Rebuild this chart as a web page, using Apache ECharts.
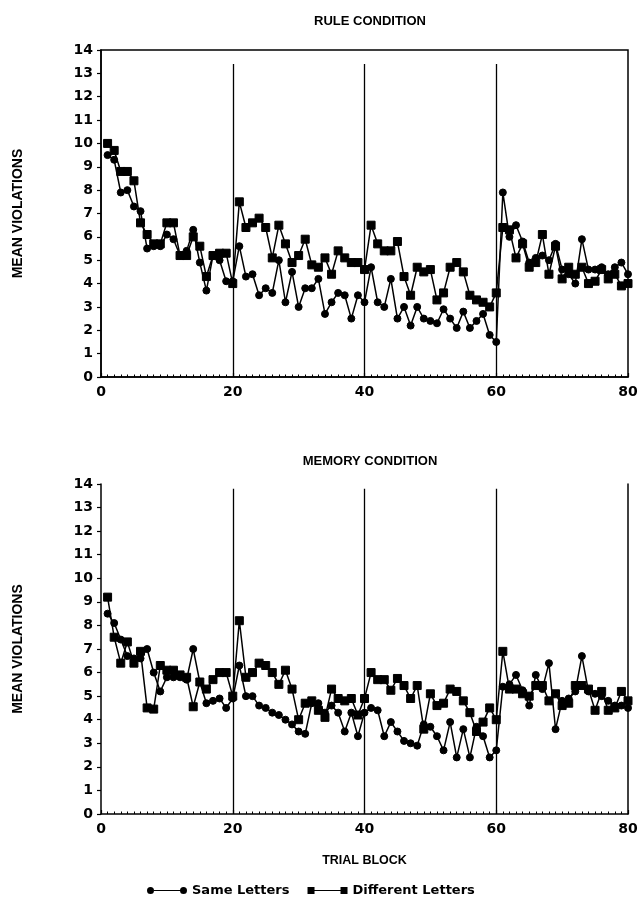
<!DOCTYPE html>
<html>
<head>
<meta charset="utf-8">
<script src="https://cdn.jsdelivr.net/npm/echarts@6/dist/echarts.min.js"></script>
<style>
html,body{margin:0;padding:0;background:#fff;}
#chart{width:642px;height:899px;}
</style>
</head>
<body>
<div id="chart"></div>
<script>
// ---- Data ----
const trials = Array.from({length: 80}, (_, i) => i + 1);

const ruleSame = [9.5,9.3,7.9,8.0,7.3,7.1,5.5,5.6,5.6,6.1,5.9,5.2,5.4,6.3,4.9,3.7,5.2,5.0,4.1,4.1,
  5.6,4.3,4.4,3.5,3.8,3.6,5.0,3.2,4.5,3.0,3.8,3.8,4.2,2.7,3.2,3.6,3.5,2.5,3.5,3.2,
  4.7,3.2,3.0,4.2,2.5,3.0,2.2,3.0,2.5,2.4,2.3,2.9,2.5,2.1,2.8,2.1,2.4,2.7,1.8,1.5,
  7.9,6.0,6.5,5.8,4.9,5.1,5.2,5.0,5.7,4.6,4.4,4.0,5.9,4.6,4.6,4.7,4.4,4.7,4.9,4.4];

const ruleDiff = [10.0,9.7,8.8,8.8,8.4,6.6,6.1,5.7,5.7,6.6,6.6,5.2,5.2,6.0,5.6,4.3,5.2,5.3,5.3,4.0,
  7.5,6.4,6.6,6.8,6.4,5.1,6.5,5.7,4.9,5.2,5.9,4.8,4.7,5.1,4.4,5.4,5.1,4.9,4.9,4.6,
  6.5,5.7,5.4,5.4,5.8,4.3,3.5,4.7,4.5,4.6,3.3,3.6,4.7,4.9,4.5,3.5,3.3,3.2,3.0,3.6,
  6.4,6.3,5.1,5.7,4.7,4.9,6.1,4.4,5.6,4.2,4.7,4.4,4.7,4.0,4.1,4.6,4.2,4.4,3.9,4.0];

const memSame = [8.5,8.1,7.4,6.7,6.6,6.6,7.0,6.0,5.2,5.8,5.8,5.8,5.7,7.0,5.6,4.7,4.8,4.9,4.5,4.9,
  6.3,5.0,5.0,4.6,4.5,4.3,4.2,4.0,3.8,3.5,3.4,4.7,4.7,4.3,4.6,4.3,3.5,4.3,3.3,4.3,
  4.5,4.4,3.3,3.9,3.5,3.1,3.0,2.9,3.8,3.7,3.3,2.7,3.9,2.4,3.6,2.4,3.7,3.3,2.4,2.7,
  5.4,5.5,5.9,5.25,4.6,5.9,5.3,6.4,3.6,4.8,4.9,5.2,6.7,5.2,5.1,5.0,4.8,4.6,4.6,4.5];

const memDiff = [9.2,7.5,6.4,7.3,6.4,6.9,4.5,4.45,6.3,6.1,6.1,5.9,5.8,4.55,5.6,5.3,5.7,6.0,6.0,5.0,
  8.2,5.8,6.0,6.4,6.3,6.0,5.5,6.1,5.3,4.0,4.7,4.8,4.4,4.1,5.3,4.9,4.8,4.9,4.2,4.9,
  6.0,5.7,5.7,5.25,5.75,5.45,4.9,5.45,3.6,5.1,4.6,4.7,5.3,5.2,4.8,4.3,3.5,3.9,4.5,4.0,
  6.9,5.3,5.3,5.1,5.0,5.45,5.45,4.8,5.1,4.6,4.7,5.45,5.45,5.3,4.4,5.2,4.4,4.5,5.2,4.8];

const xTicks = [0, 20, 40, 60, 80];
const yTicks = [0,1,2,3,4,5,6,7,8,9,10,11,12,13,14];
const blockBoundaries = [20, 40, 60];
const seriesNames = ['Same Letters', 'Different Letters'];
const panelTitles = ['RULE CONDITION', 'MEMORY CONDITION'];

// ---- Chart ----
const FONT = 'Liberation Sans';
const WIDE = 'DejaVu Sans';
const chart = echarts.init(document.getElementById('chart'), null, {renderer: 'canvas'});

function pairs(vals) { return trials.map((t, i) => [t, vals[i]]); }

function boundaryLines(top) {
  return blockBoundaries.map(b => [{coord: [b, 0]}, {coord: [b, top]}]);
}

function xAxisFor(gridIndex, withName) {
  const ax = {
    type: 'value', gridIndex: gridIndex,
    min: xTicks[0], max: xTicks[xTicks.length - 1], interval: 20,
    axisLine: {show: true, onZero: false, lineStyle: {color: '#000', width: 1.5}},
    axisTick: {show: true, inside: true, length: 4, lineStyle: {color: '#000', width: 1.2}},
    minorTick: {show: true, splitNumber: 20, length: 2.5, lineStyle: {color: '#000', width: 1}},
    splitLine: {show: false},
    axisLabel: {color: '#000', fontFamily: WIDE, fontWeight: 'bold', fontSize: 14, margin: 8}
  };
  if (withName) {
    ax.name = 'TRIAL BLOCK';
    ax.nameLocation = 'middle';
    ax.nameGap = 40;
    ax.nameTextStyle = {color: '#000', fontFamily: FONT, fontWeight: 'bold', fontSize: 12.5};
  }
  return ax;
}

function yAxisFor(gridIndex) {
  return {
    type: 'value', gridIndex: gridIndex,
    min: yTicks[0], max: yTicks[yTicks.length - 1], interval: 1,
    name: 'MEAN VIOLATIONS', nameLocation: 'middle', nameGap: 76,
    nameTextStyle: {color: '#000', fontFamily: FONT, fontWeight: 'bold', fontSize: 14},
    axisLine: {show: true, lineStyle: {color: '#000', width: 1.5}},
    axisTick: {show: true, length: 4, lineStyle: {color: '#000', width: 1.2}},
    splitLine: {show: false},
    axisLabel: {color: '#000', fontFamily: WIDE, fontWeight: 'bold', fontSize: 14, margin: 8}
  };
}

function lineSeries(name, vals, symbol, size, xi, yi, mark) {
  const s = {
    name: name, type: 'line', xAxisIndex: xi, yAxisIndex: yi,
    data: pairs(vals), symbol: symbol, symbolSize: size, showSymbol: true,
    lineStyle: {color: '#000', width: 1.5},
    itemStyle: {color: '#000', borderColor: '#000'},
    animation: false, z: 3
  };
  if (mark) {
    s.markLine = {
      silent: true, symbol: ['none', 'none'], label: {show: false},
      lineStyle: {color: '#000', width: 1.3, type: 'solid'},
      data: mark
    };
  }
  return s;
}

const option = {
  backgroundColor: '#fff',
  animation: false,
  title: [
    {text: panelTitles[0], left: 365, top: 10, textAlign: 'center',
      textStyle: {color: '#000', fontFamily: FONT, fontWeight: 'bold', fontSize: 13}},
    {text: panelTitles[1], left: 365, top: 450, textAlign: 'center',
      textStyle: {color: '#000', fontFamily: FONT, fontWeight: 'bold', fontSize: 13}}
  ],
  grid: [
    {left: 101, top: 50, width: 527, height: 327, show: true, borderColor: '#000', borderWidth: 1.5, backgroundColor: 'transparent'},
    {left: 101, top: 484, width: 527, height: 330}
  ],
  legend: {
    left: 142, top: 879,
    itemWidth: 40, itemHeight: 7, itemGap: 18,
    textStyle: {color: '#000', fontFamily: WIDE, fontWeight: 'bold', fontSize: 13},
    selectedMode: false,
    data: [
      {name: seriesNames[0], icon: 'path://M0,3.5A3.5,3.5,0,1,1,7,3.5A3.5,3.5,0,1,1,0,3.5ZM7,2.9H33V4.1H7ZM33,3.5A3.5,3.5,0,1,1,40,3.5A3.5,3.5,0,1,1,33,3.5Z'},
      {name: seriesNames[1], icon: 'path://M0,0H7V7H0ZM7,2.9H33V4.1H7ZM33,0H40V7H33Z'}
    ]
  },
  xAxis: [xAxisFor(0, false), xAxisFor(1, true)],
  yAxis: [
    yAxisFor(0),
    yAxisFor(1),
    {type: 'value', gridIndex: 1, position: 'right', min: 0, max: 14,
      axisLine: {show: true, lineStyle: {color: '#000', width: 1.5}},
      axisTick: {show: false}, axisLabel: {show: false}, splitLine: {show: false}}
  ],
  series: [
    lineSeries(seriesNames[0], ruleSame, 'circle', 7, 0, 0, boundaryLines(13.4)),
    lineSeries(seriesNames[1], ruleDiff, 'rect', 8, 0, 0, null),
    lineSeries(seriesNames[0], memSame, 'circle', 7, 1, 1, boundaryLines(13.8)),
    lineSeries(seriesNames[1], memDiff, 'rect', 8, 1, 1, null)
  ]
};

chart.setOption(option);
</script>
</body>
</html>
